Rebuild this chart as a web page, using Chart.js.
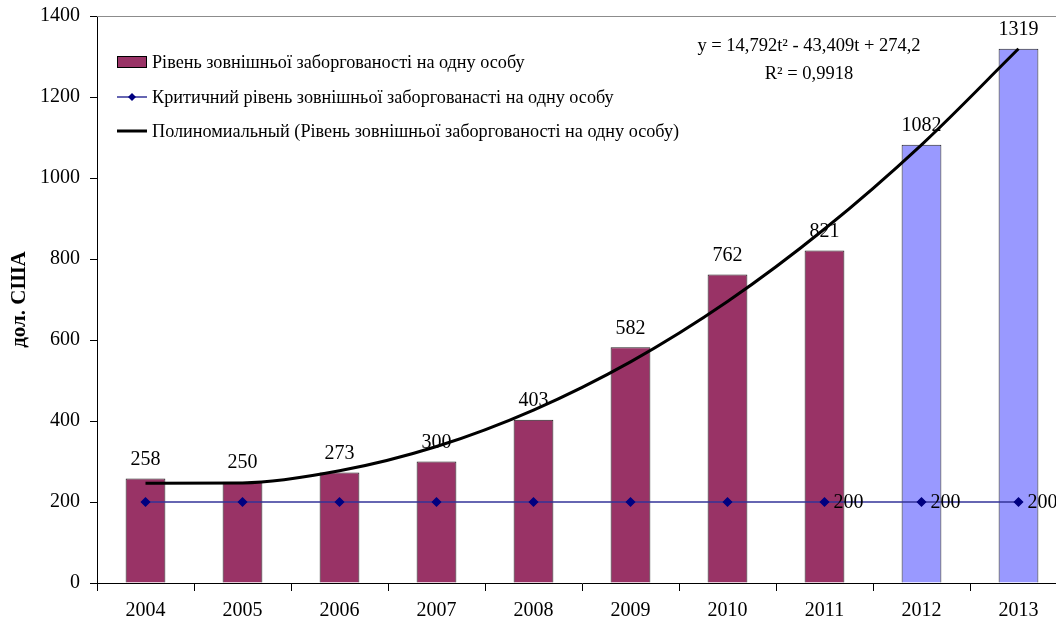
<!DOCTYPE html>
<html>
<head>
<meta charset="utf-8">
<script src="https://cdn.jsdelivr.net/npm/chart.js@4/dist/chart.umd.min.js"></script>
<style>
  html, body { margin: 0; padding: 0; background: #fff; overflow: hidden; }
  #wrap { width: 1056px; height: 624px; overflow: hidden; }
</style>
</head>
<body>
<div id="wrap"><canvas id="debtChart" width="1080" height="624"></canvas></div>
<script>
// Data
const years = ['2004', '2005', '2006', '2007', '2008', '2009', '2010', '2011', '2012', '2013'];
const debtPerPerson = [258, 250, 273, 300, 403, 582, 762, 821, 1082, 1319];
const criticalLevel = [200, 200, 200, 200, 200, 200, 200, 200, 200, 200];
const trendValues = [246, 247, 277, 337, 427, 546, 695, 874, 1082, 1319];
const yTicks = [0, 200, 400, 600, 800, 1000, 1200, 1400];
const forecastFrom = 8;       // 2012, 2013 drawn in light blue
const critLabelFrom = 7;      // "200" labels shown from 2011 on

const seriesNames = [
  'Рівень зовнішньої заборгованості на одну особу',
  'Критичний рівень зовнішньої заборгованасті на одну особу',
  'Полиномиальный (Рівень зовнішньої заборгованості на одну особу)'
];
const eqLine1 = 'y = 14,792t² - 43,409t + 274,2';
const eqLine2 = 'R² = 0,9918';

const FONT = '"Liberation Serif", "Times New Roman", serif';

// Legend, labels and equation are drawn by hand
const extras = {
  id: 'extras',
  afterDatasetsDraw(chart) {
    const ctx = chart.ctx;
    const area = chart.chartArea;
    const barMeta = chart.getDatasetMeta(0);
    const critMeta = chart.getDatasetMeta(1);

    ctx.save();
    // top border of the plot area
    ctx.strokeStyle = '#8c8c8c';
    ctx.lineWidth = 1;
    ctx.beginPath();
    ctx.moveTo(area.left, area.top + 0.5);
    ctx.lineTo(area.right, area.top + 0.5);
    ctx.stroke();

    ctx.fillStyle = '#000';
    ctx.font = '20px ' + FONT;
    ctx.textAlign = 'center';
    ctx.textBaseline = 'bottom';
    barMeta.data.forEach((bar, i) => {
      ctx.fillText(String(debtPerPerson[i]), bar.x, bar.y - 9);
    });

    ctx.textAlign = 'left';
    ctx.textBaseline = 'middle';
    critMeta.data.forEach((pt, i) => {
      if (i >= critLabelFrom) ctx.fillText(String(criticalLevel[i]), pt.x + 9, pt.y + 1);
    });

    // equation
    ctx.font = '18.5px ' + FONT;
    ctx.textAlign = 'center';
    ctx.fillText(eqLine1, 809, 46);
    ctx.fillText(eqLine2, 809, 74);

    // legend
    const lx = 117, tx = 152;
    const rows = [62, 97, 131];
    ctx.font = '18.2px ' + FONT;
    ctx.textAlign = 'left';
    ctx.fillStyle = '#993366';
    ctx.fillRect(lx, rows[0] - 6, 30, 12);
    ctx.strokeStyle = '#000';
    ctx.lineWidth = 1;
    ctx.strokeRect(lx + 0.5, rows[0] - 5.5, 29, 11);

    ctx.strokeStyle = '#333399';
    ctx.lineWidth = 1.5;
    ctx.beginPath();
    ctx.moveTo(lx, rows[1]);
    ctx.lineTo(lx + 30, rows[1]);
    ctx.stroke();
    ctx.fillStyle = '#000080';
    ctx.beginPath();
    ctx.moveTo(lx + 15, rows[1] - 4);
    ctx.lineTo(lx + 19, rows[1]);
    ctx.lineTo(lx + 15, rows[1] + 4);
    ctx.lineTo(lx + 11, rows[1]);
    ctx.closePath();
    ctx.fill();

    ctx.strokeStyle = '#000';
    ctx.lineWidth = 3;
    ctx.beginPath();
    ctx.moveTo(lx, rows[2]);
    ctx.lineTo(lx + 30, rows[2]);
    ctx.stroke();

    ctx.fillStyle = '#000';
    seriesNames.forEach((name, i) => ctx.fillText(name, tx, rows[i] + 1));
    ctx.restore();
  }
};

const ctx = document.getElementById('debtChart').getContext('2d');
new Chart(ctx, {
  type: 'bar',
  data: {
    labels: years,
    datasets: [{
      label: seriesNames[0],
      data: debtPerPerson,
      backgroundColor: years.map((y, i) => i >= forecastFrom ? '#9999ff' : '#993366'),
      borderColor: '#222',
      borderWidth: 1,
      barPercentage: 0.41,
      categoryPercentage: 1,
      order: 3
    }, {
      type: 'line',
      label: seriesNames[1],
      data: criticalLevel,
      borderColor: '#333399',
      borderWidth: 1.5,
      pointStyle: 'rectRot',
      pointRadius: 4,
      pointBackgroundColor: '#000080',
      pointBorderColor: '#000080',
      order: 2
    }, {
      type: 'line',
      label: seriesNames[2],
      data: trendValues,
      borderColor: '#000',
      borderWidth: 3,
      pointRadius: 0,
      cubicInterpolationMode: 'monotone',
      order: 1
    }]
  },
  options: {
    responsive: false,
    animation: false,
    layout: { padding: { top: 16, right: 13, left: 0, bottom: 0 } },
    scales: {
      x: {
        grid: { offset: true, drawOnChartArea: false, tickLength: 8, color: '#000' },
        border: { color: '#000', width: 1 },
        ticks: { color: '#000', font: { family: FONT, size: 20 }, padding: 8, maxRotation: 0 },
        afterFit: scale => {
          scale.height = 41;
          scale.paddingLeft = 0;
          scale.paddingRight = 0;
        }
      },
      y: {
        min: 0,
        max: 1400,
        afterBuildTicks: scale => { scale.ticks = yTicks.map(v => ({ value: v })); },
        grid: { drawOnChartArea: false, tickLength: 7, color: '#000' },
        border: { color: '#000', width: 1 },
        ticks: {
          color: '#000',
          font: { family: FONT, size: 20 },
          padding: 10,
          callback: v => String(v)
        },
        title: {
          display: true,
          text: 'дол. США',
          color: '#000',
          font: { family: FONT, size: 21, weight: 'bold' },
          padding: { top: 7, bottom: 0 }
        },
        afterFit: scale => {
          scale.width = 97;
          scale.paddingTop = 0;
          scale.paddingBottom = 0;
        }
      }
    },
    plugins: {
      legend: { display: false },
      tooltip: { enabled: false }
    }
  },
  plugins: [extras]
});
</script>
</body>
</html>
